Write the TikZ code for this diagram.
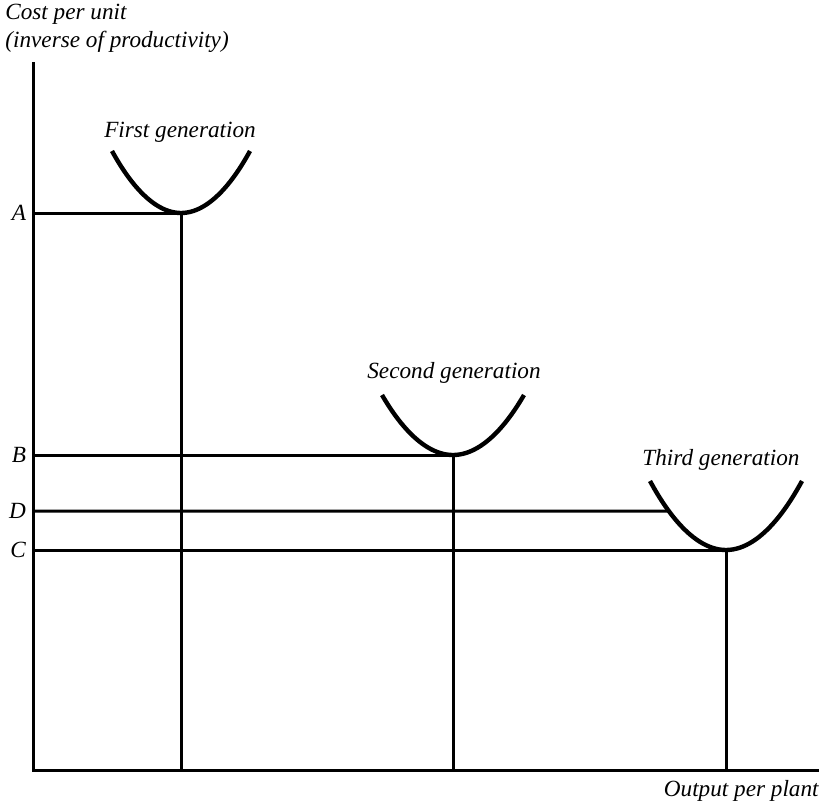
\documentclass[tikz,border=0pt]{standalone}
\usepackage{fontspec}
\setmainfont{Liberation Serif}
\usetikzlibrary{intersections}
\newcommand*{\OriginX}{33}
\newcommand*{\OriginY}{770}
\newcommand*{\LabelFont}{\itshape\fontsize{11.6}{14}\selectfont}

\begin{document}
\begin{tikzpicture}[x=0.5pt, y=-0.5pt,
    axis/.style={line width=1.5pt},
    costline/.style={line width=1.5pt},
    curve/.style={line width=2.2pt},
    lbl/.style={font=\LabelFont}]
  \useasboundingbox (0,0) rectangle (819,805);
  % axes
  \coordinate (origin) at (\OriginX,\OriginY);
  \coordinate (ytop) at (\OriginX,62);
  \coordinate (xend) at (819,\OriginY);
  \draw[axis] (ytop) -- (origin) -- (xend);
  \node[lbl, anchor=north west, align=left, inner sep=0pt] (ylabel) at (5,4)
    {Cost per unit\\(inverse of productivity)};
  \node[lbl, anchor=base east, inner sep=0pt] (xlabel) at (819,796) {Output per plant};
  % generation curves: name / min x / min y / half width / height / label x / label y / text
  \foreach \n/\x/\y/\w/\h/\lx/\ly/\lab in {first/181/213/69/62/180/137/First generation,
      second/453/455/71/60/454/378/Second generation,
      third/726/550/76/69/721/465/Third generation} {
    \coordinate (\n) at (\x,\y);
    \draw[curve, name path global=\n] (\x-\w,\y-\h) parabola bend (\n) (\x+\w,\y-\h);
    \node[lbl, anchor=base] (\n label) at (\lx,\ly) {\lab};
    \draw[costline] (\n) -- (\n |- origin);
  }
  % cost levels
  \foreach \lv/\n in {A/first, B/second, C/third} {
    \node[lbl, anchor=east] (\lv) at (origin |- \n) {\lv};
    \draw[costline] (\lv.east) -- (\n);
  }
  \coordinate (dlevel) at (\OriginX,511);
  \node[lbl, anchor=east] (D) at (dlevel) {D};
  \path[name path=dline] (D.east) -- ++(690,0);
  \draw[costline, name intersections={of=dline and third, by=dhit}] (D.east) -- (dhit);
\end{tikzpicture}
\end{document}
